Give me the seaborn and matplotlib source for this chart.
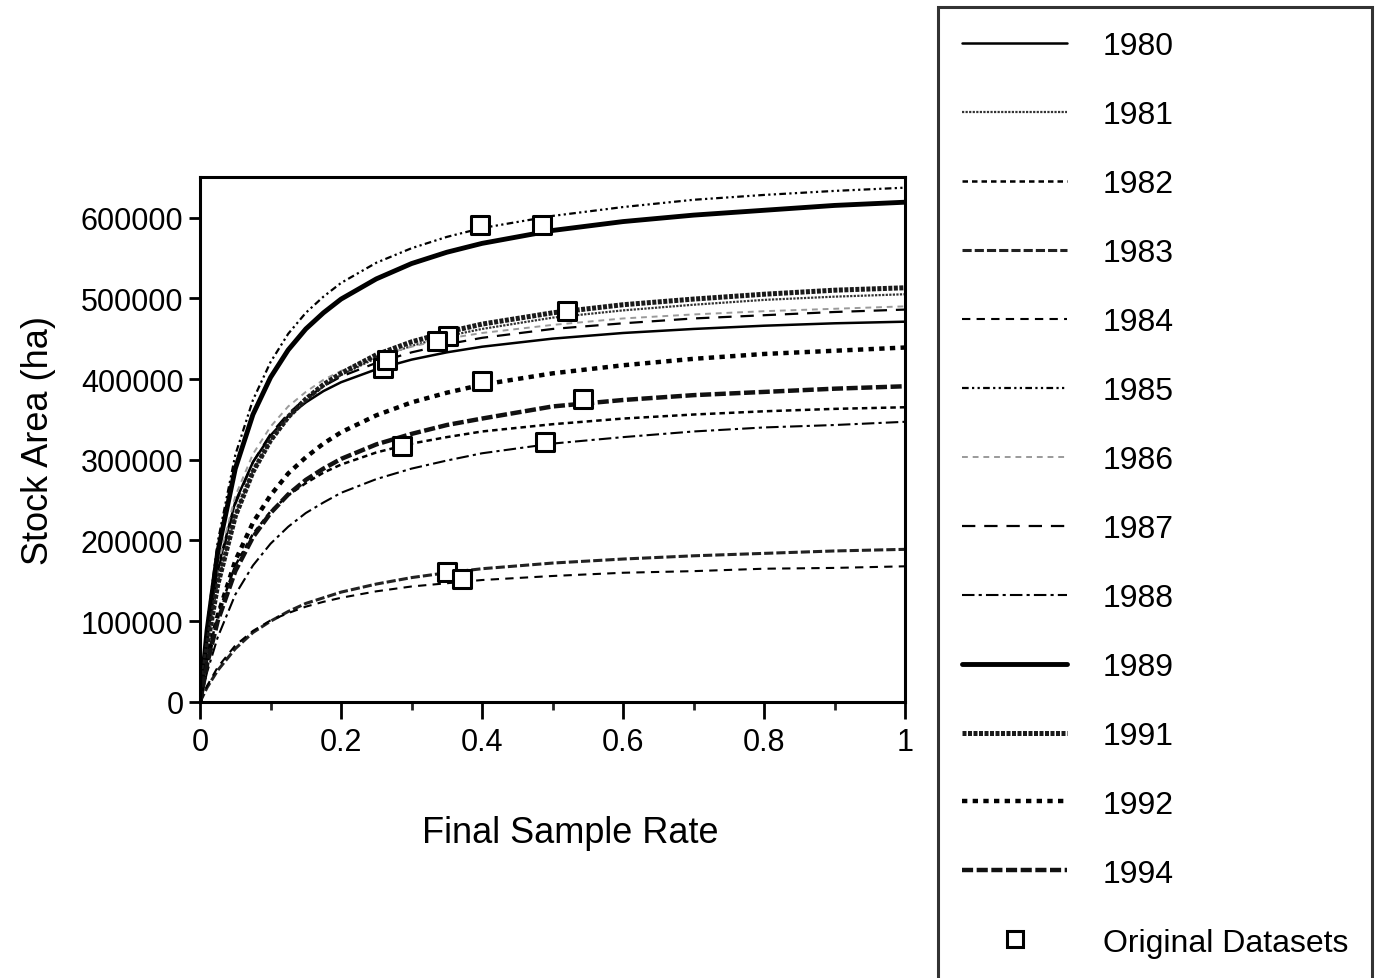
import seaborn as sns
import pandas as pd
import matplotlib.pyplot as plt
from matplotlib.lines import Line2D

# sample rate grid and stock area per year (thousand ha)
rate = [0, 0.01, 0.025, 0.05, 0.075, 0.1, 0.125, 0.15, 0.175, 0.2, 0.25, 0.3, 0.35, 0.4,
        0.5, 0.6, 0.7, 0.8, 0.9, 1.0]
y1980 = [0, 83, 165, 248, 297, 330, 354, 371, 385, 396, 412, 424, 433, 440, 450, 457, 462, 466, 469, 471]
y1981 = [0, 70, 147, 231, 286, 324, 352, 373, 391, 405, 426, 441, 453, 462, 476, 485, 492, 498, 502, 505]
y1982 = [0, 52, 108, 169, 208, 236, 256, 271, 284, 294, 309, 320, 328, 335, 344, 351, 356, 360, 363, 365]
y1983 = [0, 18, 39, 66, 86, 100, 112, 122, 129, 136, 146, 154, 160, 165, 172, 177, 181, 184, 187, 189]
y1984 = [0, 20, 43, 70, 88, 101, 110, 118, 124, 129, 137, 143, 147, 151, 156, 160, 162, 165, 166, 168]
y1985 = [0, 96, 198, 306, 374, 421, 456, 482, 502, 519, 544, 562, 576, 587, 602, 613, 622, 628, 633, 637]
y1986 = [0, 84, 169, 255, 307, 341, 366, 384, 399, 410, 428, 440, 450, 457, 467, 475, 480, 484, 487, 490]
y1987 = [0, 80, 161, 245, 297, 332, 357, 376, 391, 403, 420, 433, 443, 451, 462, 469, 475, 479, 483, 486]
y1988 = [0, 37, 80, 133, 169, 196, 217, 234, 247, 259, 276, 289, 299, 308, 320, 328, 335, 340, 343, 347]
y1989 = [0, 89, 185, 289, 356, 402, 436, 462, 482, 499, 524, 543, 557, 568, 584, 595, 603, 609, 615, 619]
y1991 = [0, 69, 145, 230, 285, 324, 353, 375, 393, 407, 430, 446, 458, 468, 482, 492, 499, 505, 510, 513]
y1992 = [0, 50, 107, 175, 222, 256, 283, 303, 320, 334, 355, 371, 383, 393, 407, 417, 425, 431, 435, 439]
y1994 = [0, 47, 100, 162, 204, 234, 257, 275, 289, 301, 319, 332, 343, 351, 366, 374, 380, 384, 388, 391]

years = ['1980', '1981', '1982', '1983', '1984', '1985', '1986',
         '1987', '1988', '1989', '1991', '1992', '1994']
curves = [y1980, y1981, y1982, y1983, y1984, y1985, y1986,
          y1987, y1988, y1989, y1991, y1992, y1994]

# original datasets (one per year)
orig_rate = [0.26, 0.352, 0.287, 0.35, 0.372, 0.397, 0.336, 0.265, 0.49, 0.485, 0.52, 0.40, 0.543]
orig_area = [414, 453, 317, 161, 152, 591, 447, 424, 322, 591, 484, 397, 375]

# line look per year: (linestyle, linewidth, colour)
styles = {
    '1980': ('-', 1.8, 'black'),
    '1981': ((0, (1, 0.6)), 1.6, '#333333'),
    '1982': ((0, (2.2, 1.6)), 1.8, 'black'),
    '1983': ((0, (3, 1)), 2.2, '#222222'),
    '1984': ((0, (4, 3)), 1.5, 'black'),
    '1985': ((0, (3, 1.5, 1, 1.5, 1, 1.5)), 1.6, 'black'),
    '1986': ((0, (3, 2.5)), 1.4, '#9a9a9a'),
    '1987': ((0, (6, 4)), 1.6, 'black'),
    '1988': ((0, (6, 2, 1.5, 2)), 1.5, 'black'),
    '1989': ('-', 3.5, 'black'),
    '1991': ((0, (0.8, 0.3)), 3.6, '#1a1a1a'),
    '1992': ((0, (1.2, 1.2)), 3.2, 'black'),
    '1994': ((0, (2.5, 0.8)), 3.2, '#111111'),
}

sns.set_theme(style='ticks')
plt.rcParams['font.family'] = ['Liberation Sans', 'DejaVu Sans']

fig = plt.figure(figsize=(13.75, 9.79), dpi=100)
ax = fig.add_axes([0.1455, 0.282, 0.5127, 0.536])

for yr, vals in zip(years, curves):
    ls, lw, col = styles[yr]
    df = pd.DataFrame({'rate': rate, 'area': [v * 1000 for v in vals]})
    sns.lineplot(data=df, x='rate', y='area', ax=ax, color=col,
                 linestyle=ls, linewidth=lw, legend=False)

sns.scatterplot(x=orig_rate, y=[v * 1000 for v in orig_area], ax=ax, marker='s',
                s=150, facecolor='white', edgecolor='black', linewidth=2.2, zorder=5)

ax.set_xlim(0, 1)
ax.set_ylim(0, 650000)
ax.set_yticks([0, 100000, 200000, 300000, 400000, 500000, 600000])
ax.set_yticklabels(['0', '100000', '200000', '300000', '400000', '500000', '600000'])
ax.set_xticks([0, 0.2, 0.4, 0.6, 0.8, 1.0])
ax.set_xticklabels(['0', '0.2', '0.4', '0.6', '0.8', '1'])
ax.set_xticks([0.1, 0.3, 0.5, 0.7, 0.9], minor=True)
ax.tick_params(axis='both', labelsize=22, color='black', width=2, labelcolor='black')
ax.tick_params(axis='x', which='major', length=12, pad=6)
ax.tick_params(axis='x', which='minor', length=6, width=2, bottom=True)
ax.tick_params(axis='y', length=8, pad=4)
for sp in ax.spines.values():
    sp.set_visible(True)
    sp.set_color('black')
    sp.set_linewidth(2.2)
ax.set_xlabel('Final Sample Rate', fontsize=26, labelpad=36, color='black')
ax.xaxis.set_label_coords(0.525, -0.215)
ax.set_ylabel('Stock Area (ha)', fontsize=26, labelpad=18, color='black')

# legend box on the right
handles = []
for yr in years:
    ls, lw, col = styles[yr]
    handles.append(Line2D([], [], color=col, linestyle=ls, linewidth=lw))
handles.append(Line2D([], [], color='black', marker='s', markersize=11,
                      markerfacecolor='white', markeredgewidth=2.2, linestyle='none'))
labels = years + ['Original Datasets']
leg = fig.legend(handles, labels, loc='upper left',
                 bbox_to_anchor=(938 / 1375, 1 - 8 / 979),
                 fontsize=23, handlelength=3.3, handletextpad=1.1,
                 labelspacing=1.22, borderpad=0.75, borderaxespad=0,
                 frameon=True, fancybox=False, edgecolor='black')
leg.get_frame().set_linewidth(2.2)
for t in leg.get_texts():
    t.set_color('black')

fig.savefig('out.png', dpi=100, facecolor='white')
